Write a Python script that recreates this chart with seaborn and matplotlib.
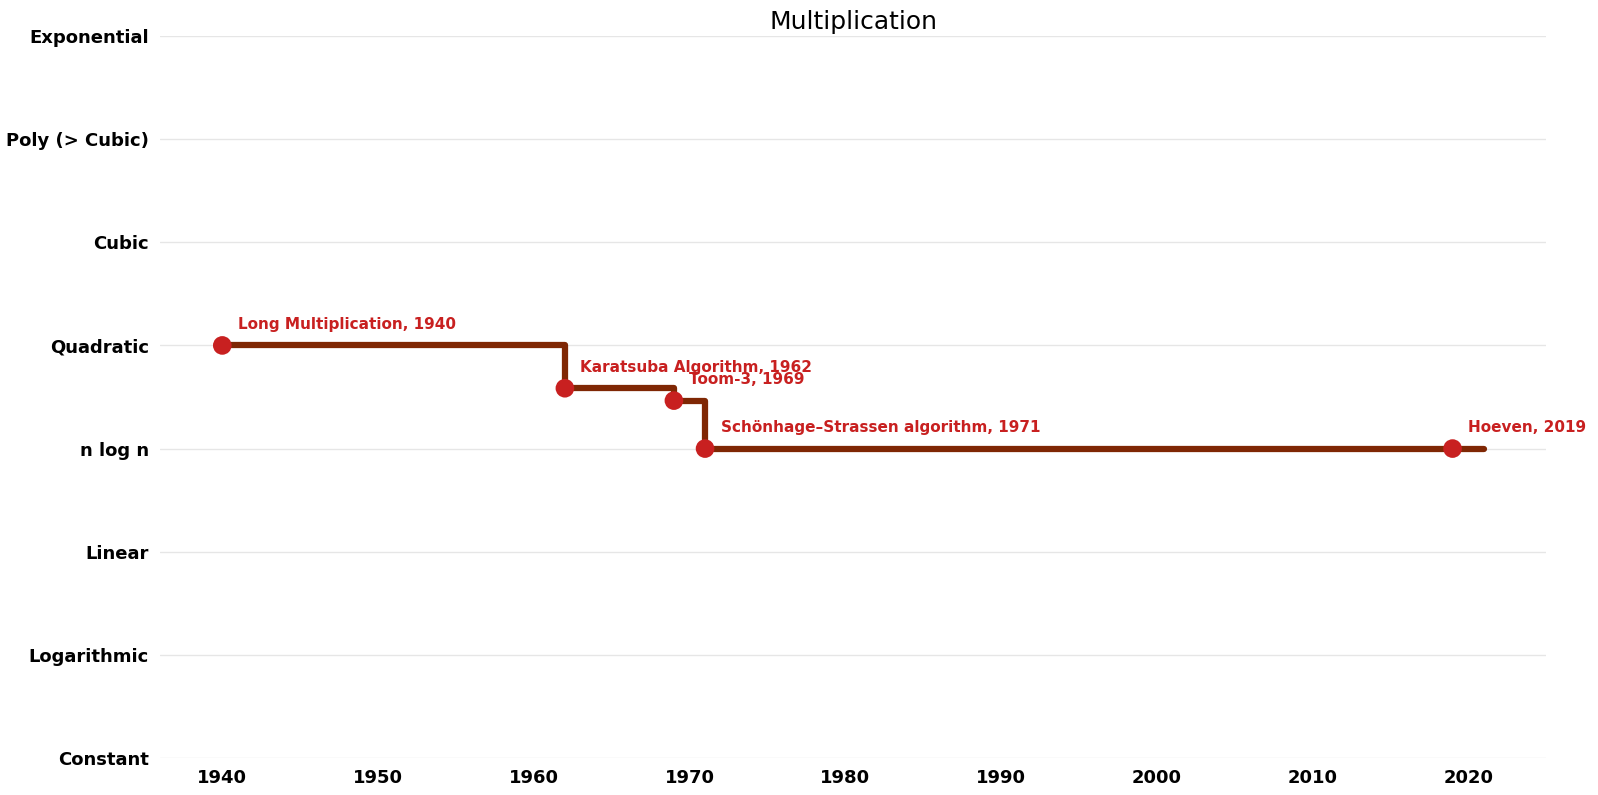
import numpy as np
import pandas as pd
import matplotlib
matplotlib.use('Agg')
import matplotlib.pyplot as plt
import seaborn as sns

# --- dados
years = [1940, 1962, 1969, 1971, 2019]
levels = [4.0, 3.585, 3.465, 3.0, 3.0]
names = ['Long Multiplication', 'Karatsuba Algorithm', 'Toom-3',
         'Schönhage–Strassen algorithm', 'Hoeven']
end_year = 2021
class_labels = ['Constant', 'Logarithmic', 'Linear', 'n log n', 'Quadratic',
                'Cubic', 'Poly (> Cubic)', 'Exponential']
x_ticks = [1940, 1950, 1960, 1970, 1980, 1990, 2000, 2010, 2020]

sns.set_style('white')

points = pd.DataFrame({'year': years, 'level': levels, 'name': names})
steps = pd.DataFrame({'year': years + [end_year], 'level': levels + [levels[-1]]})

fig = plt.figure(figsize=(15.98, 7.95), dpi=100)
ax = fig.add_axes([160 / 1598, 1 - 758 / 795, (1546 - 160) / 1598, (758 - 36) / 795])

for i in range(len(class_labels)):
    ax.axhline(i, color='#e6e6e6', lw=1, zorder=0)

sns.lineplot(data=steps, x='year', y='level', ax=ax, drawstyle='steps-post',
             color='#7f2704', lw=4.5, solid_capstyle='round', estimator=None,
             sort=False, zorder=2)
sns.scatterplot(data=points, x='year', y='level', ax=ax, color='#c82020',
                s=180, edgecolor='none', zorder=3)

for _, r in points.iterrows():
    ax.text(r['year'] + 1, r['level'] + 0.2, f"{r['name']}, {r['year']}",
            color='#c82020', fontsize=11, fontweight='bold', va='center',
            ha='left')

ax.set_xlim(1936, 2025)
ax.set_ylim(0, 7)
ax.set_yticks(range(len(class_labels)))
ax.set_yticklabels(class_labels, fontsize=13, fontweight='bold', color='black')
ax.set_xticks(x_ticks)
ax.set_xticklabels([str(t) for t in x_ticks], fontsize=13, fontweight='bold',
                   color='black')
ax.tick_params(length=0, pad=8)
ax.set_xlabel('')
ax.set_ylabel('')
for s in ax.spines.values():
    s.set_visible(False)
ax.set_title('Multiplication', fontsize=18, pad=0, y=1.01, color='black')

fig.savefig('out.png', dpi=100)
